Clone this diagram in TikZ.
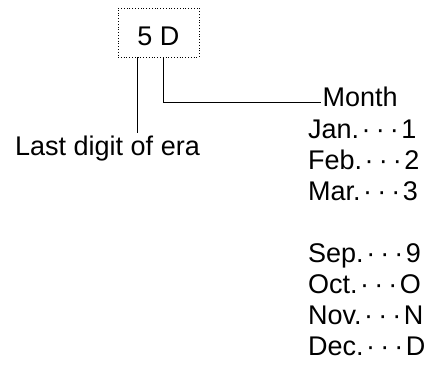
\documentclass[tikz,border=0pt]{standalone}
\usepackage{fontspec}
\setmainfont{Liberation Sans}
\newcommand{\mdots}{\makebox[0.52em]{\textperiodcentered}\makebox[0.52em]{\textperiodcentered}\makebox[0.52em]{\textperiodcentered}}
\begin{document}
\begin{tikzpicture}[x=1pt, y=-1pt, font=\fontsize{27}{31}\selectfont,
    lead/.style={draw=black, line width=0.8pt}]
        \useasboundingbox (0, 0) rectangle (431, 367);

        %%code box
        \node[draw, dotted, line width=0.8pt, inner sep=0pt, anchor=base,
              minimum width=81pt, text height=37pt, text depth=12pt] (code) at (158.5, 45) {5 D};

        %%labels
        \node[anchor=base west, inner sep=2pt] (era) at (13, 155) {Last digit of era};
        \node[anchor=base west, inner sep=2pt] (month) at (320.5, 106.5) {Month};
        \node[anchor=base west, inner sep=2pt, align=left] (list) at (306, 355)
            {Jan.\mdots1\\Feb.\mdots2\\Mar.\mdots3\\[31pt]Sep.\mdots9\\Oct.\mdots O\\Nov.\mdots N\\Dec.\mdots D};

        %%connector 1
        \draw[lead] ([xshift=-21.5pt]code.south) to ([xshift=-21.5pt]code.south |- era.north);

        %%connector 2
        \draw[lead] ([xshift=4.8pt]code.south) |- ([yshift=-6pt]month.west);

\end{tikzpicture}
\end{document}
